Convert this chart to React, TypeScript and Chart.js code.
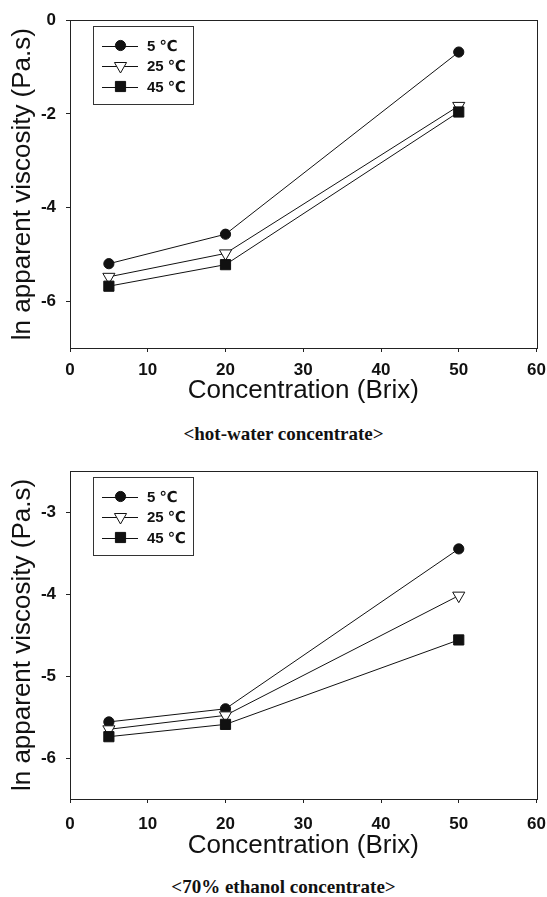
import React, { useEffect, useRef } from "react";
import { Chart, registerables } from "chart.js";

Chart.register(...registerables);

// ---------- data ----------
const concentrations = [5, 20, 50];
const seriesLabels = ["5 ℃", "25 ℃", "45 ℃"];

const hotWater5 = [-5.2, -4.57, -0.68];
const hotWater25 = [-5.48, -4.98, -1.83];
const hotWater45 = [-5.68, -5.22, -1.96];

const ethanol5 = [-5.56, -5.4, -3.45];
const ethanol25 = [-5.65, -5.48, -4.02];
const ethanol45 = [-5.74, -5.59, -4.56];

const xTicks = [0, 10, 20, 30, 40, 50, 60];
const hotWaterYTicks = [0, -2, -4, -6];
const ethanolYTicks = [-3, -4, -5, -6];

const xTitle = "Concentration (Brix)";
const yTitle = "ln apparent viscosity (Pa.s)";
const hotWaterCaption = "<hot-water concentrate>";
const ethanolCaption = "<70% ethanol concentrate>";

// ---------- styles ----------
const SANS = "'Liberation Sans', Arial, 'DejaVu Sans', sans-serif";
const SERIF = "'Liberation Serif', 'Times New Roman', serif";
const INK = "#111";

type Marker = { style: string; radius: number; fill: string };
const markers: Marker[] = [
  { style: "circle", radius: 5.6, fill: INK },
  { style: "triangleDown", radius: 7, fill: "#fff" },
  { style: "rect", radius: 7.2, fill: INK },
];

function drawMarker(ctx: CanvasRenderingContext2D, m: Marker, x: number, y: number) {
  ctx.save();
  ctx.beginPath();
  const r = m.radius;
  if (m.style === "circle") {
    ctx.arc(x, y, r - 0.5, 0, Math.PI * 2);
  } else if (m.style === "triangleDown") {
    ctx.moveTo(x - r * 0.866, y - r * 0.5);
    ctx.lineTo(x + r * 0.866, y - r * 0.5);
    ctx.lineTo(x, y + r);
    ctx.closePath();
  } else {
    const s = r * Math.SQRT1_2;
    ctx.rect(x - s, y - s, 2 * s, 2 * s);
  }
  ctx.fillStyle = m.fill;
  ctx.fill();
  ctx.lineWidth = 1;
  ctx.strokeStyle = INK;
  ctx.stroke();
  ctx.restore();
}

const framePlugin = {
  id: "frame",
  beforeDatasetsDraw(chart: any) {
    const { ctx, chartArea } = chart;
    ctx.save();
    ctx.strokeStyle = "#222";
    ctx.lineWidth = 1;
    ctx.strokeRect(
      Math.round(chartArea.left) + 0.5,
      Math.round(chartArea.top) + 0.5,
      Math.round(chartArea.right - chartArea.left),
      Math.round(chartArea.bottom - chartArea.top)
    );
    ctx.restore();
  },
};

const boxLegendPlugin = {
  id: "boxLegend",
  afterDatasetsDraw(chart: any) {
    const { ctx, chartArea } = chart;
    const bx = Math.round(chartArea.left + 23) + 0.5;
    const by = Math.round(chartArea.top + 6) + 0.5;
    const bw = 100;
    const bh = 78;
    ctx.save();
    ctx.fillStyle = "#fff";
    ctx.fillRect(bx, by, bw, bh);
    ctx.strokeStyle = "#333";
    ctx.lineWidth = 1;
    ctx.strokeRect(bx, by, bw, bh);
    chart.data.datasets.forEach((ds: any, i: number) => {
      const rowY = by + 19 + i * 20.5;
      const lx0 = chartArea.left + 32;
      const lx1 = chartArea.left + 68;
      ctx.beginPath();
      ctx.moveTo(lx0, Math.round(rowY) + 0.5);
      ctx.lineTo(lx1, Math.round(rowY) + 0.5);
      ctx.strokeStyle = INK;
      ctx.lineWidth = 1;
      ctx.stroke();
      drawMarker(ctx, markers[i], chartArea.left + 50.5, rowY);
      ctx.fillStyle = INK;
      ctx.font = `bold 15px ${SANS}`;
      ctx.textAlign = "left";
      ctx.textBaseline = "middle";
      ctx.fillText(ds.label, chartArea.left + 77, rowY + 1);
    });
    ctx.restore();
  },
};

const markerPlugin = {
  id: "customMarkers",
  afterDatasetsDraw(chart: any) {
    const { ctx } = chart;
    chart.data.datasets.forEach((_ds: any, i: number) => {
      const meta = chart.getDatasetMeta(i);
      meta.data.forEach((pt: any) => drawMarker(ctx, markers[i], pt.x, pt.y));
    });
  },
};

type Panel = {
  series: number[][];
  yMin: number;
  yMax: number;
  yTicks: number[];
  padTop: number;
  xAxisHeight: number;
  xTickLineHeight: number;
};

function makeConfig(p: Panel): any {
  return {
    type: "line",
    data: {
      datasets: p.series.map((vals, i) => ({
        label: seriesLabels[i],
        data: concentrations.map((c, j) => ({ x: c, y: vals[j] })),
        borderColor: INK,
        borderWidth: 1,
        pointRadius: 0,
        pointHoverRadius: 0,
        fill: false,
        tension: 0,
      })),
    },
    options: {
      responsive: false,
      animation: false,
      devicePixelRatio: 1,
      layout: { padding: { top: p.padTop, right: 10.5, bottom: 0, left: 0 } },
      plugins: { legend: { display: false }, tooltip: { enabled: false } },
      scales: {
        x: {
          type: "linear",
          min: 0,
          max: 60,
          afterBuildTicks: (scale: any) => {
            scale.ticks = xTicks.map((v) => ({ value: v }));
          },
          afterFit: (scale: any) => {
            scale.height = p.xAxisHeight;
          },
          border: { display: false },
          grid: { display: true, drawOnChartArea: false, drawTicks: true, tickLength: 4, color: "#222" },
          ticks: {
            color: INK,
            padding: 0,
            maxRotation: 0,
            autoSkip: false,
            font: { family: SANS, size: 17, weight: "bold", lineHeight: p.xTickLineHeight },
          },
          title: {
            display: true,
            text: xTitle,
            color: INK,
            padding: { top: 0, bottom: 0 },
            font: { family: SANS, size: 26, weight: "normal" },
          },
        },
        y: {
          type: "linear",
          min: p.yMin,
          max: p.yMax,
          afterBuildTicks: (scale: any) => {
            scale.ticks = p.yTicks.map((v) => ({ value: v }));
          },
          afterFit: (scale: any) => {
            scale.width = 70;
          },
          border: { display: false },
          grid: { display: true, drawOnChartArea: false, drawTicks: true, tickLength: 4, color: "#222" },
          ticks: {
            color: INK,
            padding: 10,
            autoSkip: false,
            font: { family: SANS, size: 17, weight: "bold" },
          },
          title: {
            display: true,
            text: yTitle,
            color: INK,
            padding: { top: 7, bottom: 0 },
            font: { family: SANS, size: 26, weight: "normal" },
          },
        },
      },
    },
    plugins: [framePlugin, markerPlugin, boxLegendPlugin],
  };
}

function ChartPanel({ panel, top, height }: { panel: Panel; top: number; height: number }) {
  const ref = useRef<HTMLCanvasElement | null>(null);
  useEffect(() => {
    if (!ref.current) return;
    const chart = new Chart(ref.current, makeConfig(panel));
    return () => chart.destroy();
  }, [panel]);
  return (
    <div style={{ position: "absolute", left: 0, top, width: 547, height }}>
      <canvas ref={ref} width={547} height={height} style={{ display: "block", width: 547, height }} />
    </div>
  );
}

const hotWaterPanel: Panel = {
  series: [hotWater5, hotWater25, hotWater45],
  yMin: -7,
  yMax: 0,
  yTicks: hotWaterYTicks,
  padTop: 18,
  xAxisHeight: 58,
  xTickLineHeight: 2.2,
};

const ethanolPanel: Panel = {
  series: [ethanol5, ethanol25, ethanol45],
  yMin: -6.5,
  yMax: -2.5,
  yTicks: ethanolYTicks,
  padTop: 21,
  xAxisHeight: 62,
  xTickLineHeight: 2.45,
};

function Caption({ text, centerY }: { text: string; centerY: number }) {
  return (
    <div
      style={{
        position: "absolute",
        left: 0,
        width: 567,
        top: centerY - 11,
        height: 22,
        lineHeight: "22px",
        textAlign: "center",
        fontFamily: SERIF,
        fontWeight: "bold",
        fontSize: 19,
        color: INK,
        whiteSpace: "nowrap",
      }}
    >
      {text}
    </div>
  );
}

export default function App() {
  return (
    <div style={{ position: "absolute", left: 0, top: 0, width: 547, height: 897, background: "#fff", overflow: "hidden" }}>
      <ChartPanel panel={hotWaterPanel} top={0} height={406} />
      <Caption text={hotWaterCaption} centerY={434} />
      <ChartPanel panel={ethanolPanel} top={450} height={411} />
      <Caption text={ethanolCaption} centerY={887} />
    </div>
  );
}
